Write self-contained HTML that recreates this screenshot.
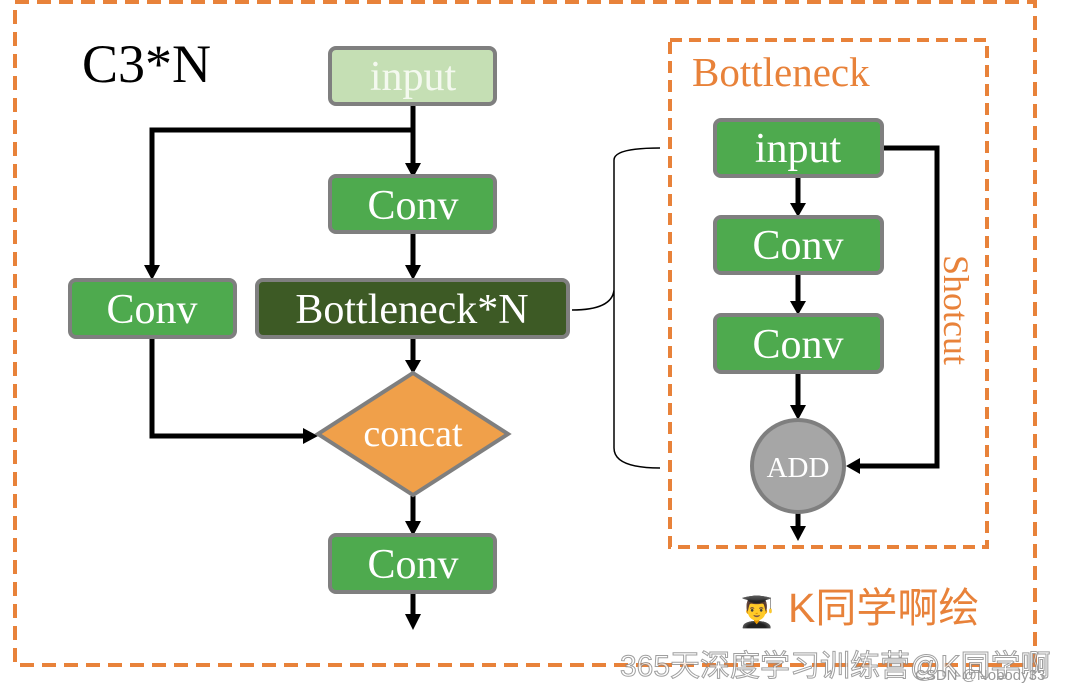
<!DOCTYPE html>
<html><head><meta charset="utf-8"><style>body{margin:0;background:#fff}svg{display:block}</style></head><body>
<svg width="1089" height="692" viewBox="0 0 1089 692" xmlns="http://www.w3.org/2000/svg" font-family="Liberation Serif, serif">
<rect x="15" y="2" width="1020" height="663" fill="none" stroke="#e8823a" stroke-width="4" stroke-dasharray="14,8"/>
<text x="82" y="82" font-size="54" fill="#000">C3*N</text>
<g stroke="#000" stroke-width="5" fill="none">
<path d="M413,104 V168"/><path d="M413,130 H152 V272"/>
<path d="M413,232 V272"/><path d="M413,337 V366"/>
<path d="M152,337 V436 H310"/><path d="M413,496 V528"/><path d="M413,592 V622"/>
</g>
<g fill="#000">
<path d="M405,163 L421,163 L413,178 z"/><path d="M144,265 L160,265 L152,280 z"/>
<path d="M405,265 L421,265 L413,280 z"/><path d="M405,360 L421,360 L413,374 z"/>
<path d="M303,428 L303,444 L318,436 z"/><path d="M405,521 L421,521 L413,536 z"/>
<path d="M405,614 L421,614 L413,630 z"/>
</g>
<g stroke="#7f7f7f" stroke-width="4">
<rect x="330" y="48" width="165" height="56" rx="6" fill="#c5dfb4"/>
<rect x="330" y="176" width="165" height="56" rx="6" fill="#4eaa4e"/>
<rect x="70" y="280" width="165" height="57" rx="6" fill="#4eaa4e"/>
<rect x="257" y="280" width="311" height="57" rx="6" fill="#3d5a25"/>
<path d="M413,373 L508,434 L413,495 L318,434 z" fill="#f0a04a"/>
<rect x="330" y="535" width="165" height="57" rx="6" fill="#4eaa4e"/>
</g>
<g fill="#fff" font-size="42" text-anchor="middle">
<text x="413" y="90" fill="#f4f9ef">input</text>
<text x="413" y="219">Conv</text>
<text x="152" y="323">Conv</text>
<text x="412" y="323">Bottleneck*N</text>
<text x="413" y="446" font-size="38">concat</text>
<text x="413" y="578">Conv</text>
</g>
<path d="M572,310 Q612,310 614,290 V160 Q614,148 660,148 M614,290 V448 Q614,468 660,468" fill="none" stroke="#000" stroke-width="1.5"/>
<rect x="670" y="40" width="317" height="507" fill="none" stroke="#e8823a" stroke-width="4" stroke-dasharray="12,7"/>
<text x="692" y="86" font-size="41" fill="#e8823a">Bottleneck</text>
<g stroke="#000" stroke-width="5" fill="none">
<path d="M798,176 V210"/><path d="M798,273 V308"/><path d="M798,372 V412"/><path d="M798,513 V533"/>
<path d="M882,148 H937 V466 H855"/>
</g>
<g fill="#000">
<path d="M790,203 L806,203 L798,217 z"/><path d="M790,301 L806,301 L798,315 z"/>
<path d="M790,405 L806,405 L798,420 z"/><path d="M790,526 L806,526 L798,541 z"/>
<path d="M860,458 L860,474 L846,466 z"/>
</g>
<g stroke="#7f7f7f" stroke-width="4">
<rect x="715" y="120" width="167" height="56" rx="6" fill="#4eaa4e"/>
<rect x="715" y="217" width="167" height="56" rx="6" fill="#4eaa4e"/>
<rect x="715" y="315" width="167" height="57" rx="6" fill="#4eaa4e"/>
<circle cx="798" cy="466" r="46" fill="#a6a6a6"/>
</g>
<g fill="#fff" font-size="42" text-anchor="middle">
<text x="798" y="162">input</text>
<text x="798" y="259">Conv</text>
<text x="798" y="358">Conv</text>
<text x="798" y="477" font-size="29">ADD</text>
</g>
<text transform="translate(944,310) rotate(90)" font-size="36" fill="#e8823a" text-anchor="middle">Shotcut</text>
<text x="738" y="622" font-size="30">👨‍🎓</text>
<text x="788" y="622" font-size="41" fill="#e8823a" font-family="Liberation Sans, Noto Sans CJK SC, sans-serif">K同学啊绘</text>
<text x="620" y="676" font-size="30" fill="#fff" stroke="#888" stroke-width="1" font-family="Liberation Sans, Noto Sans CJK SC, sans-serif" opacity="0.8">365天深度学习训练营@K同学啊</text>
<text x="915" y="680" font-size="15" fill="#999" font-family="Liberation Sans, sans-serif">CSDN @Nobody33</text>
</svg>
</body></html>
